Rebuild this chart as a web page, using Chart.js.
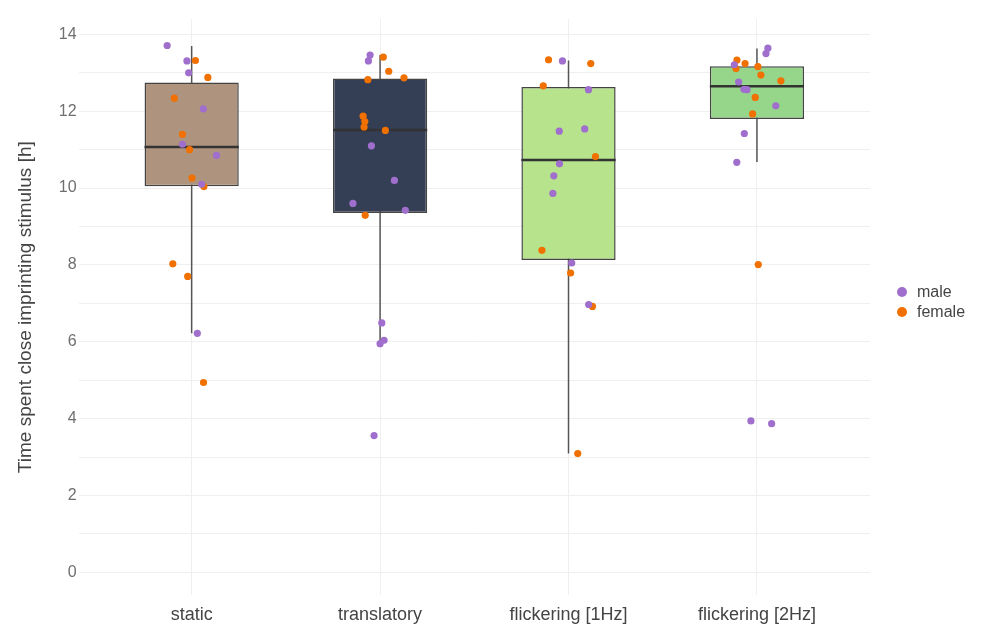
<!DOCTYPE html>
<html>
<head>
<meta charset="utf-8">
<script src="https://cdn.jsdelivr.net/npm/chart.js@4/dist/chart.umd.min.js"></script>
<style>
  html, body { margin: 0; padding: 0; background: #fff; }
  #wrap { position: relative; width: 987px; height: 629px; }
  #legend { position: absolute; left: 897px; top: 282px; font-family: 'Liberation Sans', Arial, sans-serif; font-size: 16px; color: #444; }
  #legend ul { list-style: none; margin: 0; padding: 0; }
  #legend li { display: flex; align-items: center; height: 20px; }
  #legend li span { display: inline-block; width: 10px; height: 10px; border-radius: 50%; margin-right: 10px; }
</style>
</head>
<body>
<div id="wrap">
  <canvas id="imprintChart" width="987" height="629"></canvas>
  <div id="legend"></div>
</div>
<script>
// stimulus conditions
const categories = ['static', 'translatory', 'flickering [1Hz]', 'flickering [2Hz]'];

// box summaries (hours)
const whiskerLow = [6.22, 5.95, 3.09, 10.68];
const boxQ1 = [10.05, 9.35, 8.13, 11.80];
const boxMedian = [11.07, 11.51, 10.73, 12.65];
const boxQ3 = [12.75, 12.85, 12.63, 13.17];
const whiskerHigh = [13.70, 13.46, 13.32, 13.63];
const boxColors = ['#ae947e', '#343e55', '#b6e38b', '#95d68a'];

// individual chicks, per condition
const maleHours = [
    [13.71, 13.31, 13.00, 12.06, 11.14, 10.85, 10.10, 6.22],
    [13.46, 13.31, 11.10, 10.20, 9.60, 9.42, 6.49, 6.04, 5.95, 3.56],
    [13.31, 12.56, 11.54, 11.48, 10.63, 10.32, 9.86, 8.05, 6.97],
    [13.64, 13.50, 13.21, 12.76, 12.57, 12.56, 12.14, 11.42, 10.67, 3.94, 3.87]
];
const maleJitter = [
    [-0.13, -0.025, -0.016, 0.062, -0.049, 0.132, 0.053, 0.03],
    [-0.053, -0.062, -0.046, 0.076, -0.144, 0.134, 0.009, 0.021, 0, -0.032],
    [-0.032, 0.106, 0.086, -0.049, -0.048, -0.078, -0.083, 0.017, 0.107],
    [0.058, 0.048, -0.12, -0.097, -0.069, -0.053, 0.10, -0.067, -0.107, -0.032, 0.078]
];
const femaleHours = [
    [13.32, 12.88, 12.34, 11.40, 11.00, 10.26, 10.04, 8.03, 7.70, 4.94],
    [13.41, 13.04, 12.87, 12.82, 11.87, 11.73, 11.59, 11.50, 9.29],
    [13.34, 13.24, 12.66, 10.82, 8.38, 7.79, 6.92, 3.09],
    [13.33, 13.24, 13.16, 13.11, 12.94, 12.79, 12.36, 11.93, 8.01]
];
const femaleJitter = [
    [0.02, 0.086, -0.092, -0.049, -0.011, 0.002, 0.065, -0.10, -0.021, 0.063],
    [0.017, 0.046, 0.127, -0.065, -0.09, -0.081, -0.085, 0.028, -0.079],
    [-0.106, 0.118, -0.134, 0.143, -0.141, 0.011, 0.127, 0.049],
    [-0.106, -0.063, 0.005, -0.111, 0.021, 0.127, -0.009, -0.023, 0.007]
];

const yTicks = [0, 2, 4, 6, 8, 10, 12, 14];

const FONT = "'Liberation Sans', Arial, sans-serif";

function toPoints(values, jitter) {
    const pts = [];
    values.forEach(function (row, i) {
        row.forEach(function (v, j) {
            pts.push({ x: i + jitter[i][j], y: v });
        });
    });
    return pts;
}

const datasets = [];

// whiskers behind the boxes
categories.forEach(function (c, i) {
    datasets.push({
        type: 'line',
        label: 'whisker-' + i,
        data: [{ x: i, y: whiskerLow[i] }, { x: i, y: whiskerHigh[i] }],
        borderColor: '#555',
        borderWidth: 1.5,
        pointRadius: 0,
        order: 4
    });
});

datasets.push({
    type: 'bar',
    label: 'box',
    data: categories.map(function (c, i) { return { x: i, y: [boxQ1[i], boxQ3[i]] }; }),
    backgroundColor: boxColors,
    borderColor: '#444',
    borderWidth: 1.5,
    borderSkipped: false,
    barPercentage: 0.5,
    categoryPercentage: 1,
    order: 3
});

categories.forEach(function (c, i) {
    datasets.push({
        type: 'line',
        label: 'median-' + i,
        data: [{ x: i - 0.25, y: boxMedian[i] }, { x: i + 0.25, y: boxMedian[i] }],
        borderColor: '#333',
        borderWidth: 2.5,
        pointRadius: 0,
        order: 2
    });
});

datasets.push({
    type: 'scatter',
    label: 'male',
    data: toPoints(maleHours, maleJitter),
    backgroundColor: '#a06fcd',
    borderWidth: 0,
    pointRadius: 3.6,
    order: 1
});
datasets.push({
    type: 'scatter',
    label: 'female',
    data: toPoints(femaleHours, femaleJitter),
    backgroundColor: '#f07000',
    borderWidth: 0,
    pointRadius: 3.6,
    order: 1
});

// legend as html next to the plot, only the two point series
const htmlLegend = {
    id: 'htmlLegend',
    afterUpdate(chart) {
        const box = document.getElementById('legend');
        const items = chart.options.plugins.legend.labels.generateLabels(chart)
            .filter(function (item) { return item.text === 'male' || item.text === 'female'; });
        const ul = document.createElement('ul');
        items.forEach(function (item) {
            const li = document.createElement('li');
            const dot = document.createElement('span');
            dot.style.background = item.fillStyle;
            li.appendChild(dot);
            li.appendChild(document.createTextNode(item.text));
            ul.appendChild(li);
        });
        box.innerHTML = '';
        box.appendChild(ul);
    }
};

new Chart(document.getElementById('imprintChart'), {
    type: 'scatter',
    data: { datasets: datasets },
    plugins: [htmlLegend],
    options: {
        responsive: false,
        animation: false,
        layout: { padding: { top: 19, right: 117, bottom: -6, left: 12 } },
        plugins: {
            tooltip: { enabled: false },
            legend: { display: false }
        },
        scales: {
            x: {
                type: 'linear',
                min: -0.6,
                max: 3.6,
                offset: false,
                afterBuildTicks: function (axis) {
                    axis.ticks = categories.map(function (c, i) { return { value: i }; });
                },
                ticks: {
                    callback: function (v) { return categories[v]; },
                    color: '#444',
                    font: { family: FONT, size: 18 },
                    padding: 9,
                    maxRotation: 0
                },
                grid: { color: '#efefef', lineWidth: 1, offset: false, drawTicks: false },
                border: { display: false }
            },
            y: {
                min: -0.6,
                max: 14.4,
                afterBuildTicks: function (axis) {
                    // a light line at every hour, labels on the even ones
                    const t = [];
                    for (let h = 0; h <= 14; h++) t.push({ value: h });
                    axis.ticks = t;
                },
                ticks: {
                    autoSkip: false,
                    callback: function (v) { return yTicks.indexOf(v) >= 0 ? v : ''; },
                    color: '#6f6f6f',
                    font: { family: FONT, size: 16 },
                    padding: 2
                },
                grid: { color: '#efefef', lineWidth: 1, drawTicks: false },
                border: { display: false },
                title: {
                    display: true,
                    text: 'Time spent close imprinting stimulus [h]',
                    color: '#444',
                    font: { family: FONT, size: 19 },
                    padding: { top: 2, bottom: 20 }
                }
            }
        }
    }
});
</script>
</body>
</html>
